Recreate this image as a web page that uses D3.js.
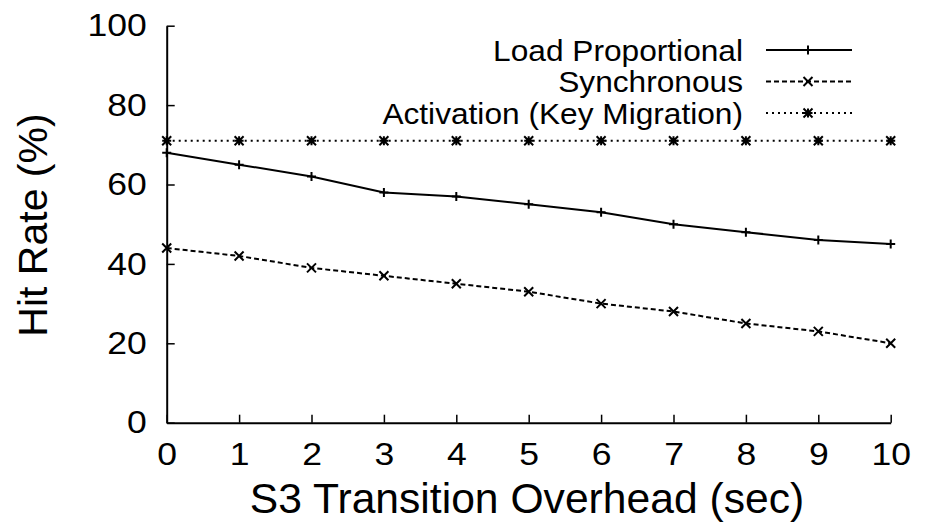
<!DOCTYPE html>
<html lang="en">
<head>
<meta charset="UTF-8">
<title>Hit Rate vs S3 Transition Overhead</title>
<script src="https://d3js.org/d3.v7.min.js"></script>
<style>
  html, body { margin: 0; padding: 0; background: #fff; }
  svg { display: block; font-family: "Liberation Sans", Arial, Helvetica, sans-serif; }
</style>
</head>
<body>
<svg id="chart" width="926" height="529"></svg>
<script>
// data
const overhead = [0, 1, 2, 3, 4, 5, 6, 7, 8, 9, 10];
const loadProportional = [68, 65, 62, 58, 57, 55, 53, 50, 48, 46, 45];
const synchronous = [44, 42, 39, 37, 35, 33, 30, 28, 25, 23, 20];
const activation = [71, 71, 71, 71, 71, 71, 71, 71, 71, 71, 71];
const yTicks = [0, 20, 40, 60, 80, 100];
const xTicks = [0, 1, 2, 3, 4, 5, 6, 7, 8, 9, 10];

const seriesNames = ["Load Proportional", "Synchronous", "Activation (Key Migration)"];
const seriesValues = [loadProportional, synchronous, activation];

const svg = d3.select("#chart");

const x = d3.scaleLinear().domain([0, 10]).range([166.7, 890.7]);
const y = d3.scaleLinear().domain([0, 100]).range([422.7, 25.7]);

// line styles: solid/+, dashed/x, dotted/*
const styles = [
  { dash: null, marker: "plus" },
  { dash: "5,3", marker: "cross" },
  { dash: "2,4", marker: "star" }
];

function drawMarker(g, type, cx, cy) {
  const s = 4.5;
  const p = d3.path();
  if (type === "plus" || type === "star") {
    p.moveTo(cx - s, cy); p.lineTo(cx + s, cy);
    p.moveTo(cx, cy - s); p.lineTo(cx, cy + s);
  }
  if (type === "cross" || type === "star") {
    p.moveTo(cx - s, cy - s); p.lineTo(cx + s, cy + s);
    p.moveTo(cx - s, cy + s); p.lineTo(cx + s, cy - s);
  }
  g.append("path").attr("d", p.toString())
    .attr("stroke", "#000").attr("stroke-width", 2).attr("fill", "none");
}

// the original text is a bit wider than Liberation Sans at the same height
function widen(sel, k) {
  sel.each(function () {
    const w = this.getComputedTextLength();
    d3.select(this).attr("textLength", w * k).attr("lengthAdjust", "spacingAndGlyphs");
  });
}

// axes
const yAxis = svg.append("g")
  .attr("transform", `translate(${x(0)},0)`)
  .call(d3.axisLeft(y).tickValues(yTicks).tickSizeInner(-8).tickSizeOuter(0).tickPadding(20));
const xAxis = svg.append("g")
  .attr("transform", `translate(0,${y(0)})`)
  .call(d3.axisBottom(x).tickValues(xTicks).tickSizeInner(-8).tickSizeOuter(0).tickPadding(20));

[yAxis, xAxis].forEach(a => {
  a.select(".domain").attr("stroke", "#000").attr("stroke-width", 2);
  a.selectAll(".tick line").attr("stroke", "#000").attr("stroke-width", 1.5);
  a.selectAll(".tick text").attr("fill", "#000").style("font-size", "32px")
    .style("font-family", "'Liberation Sans', Arial, Helvetica, sans-serif");
  widen(a.selectAll(".tick text"), 1.11);
});

// axis titles
svg.append("text")
  .attr("x", 527).attr("y", 513)
  .attr("text-anchor", "middle")
  .style("font-size", "42px")
  .text("S3 Transition Overhead (sec)")
  .call(widen, 1.015);

svg.append("text")
  .attr("transform", `translate(47,225) rotate(-90)`)
  .attr("text-anchor", "middle")
  .style("font-size", "41px")
  .text("Hit Rate (%)");

// series
const line = d3.line().x((d, i) => x(overhead[i])).y(d => y(d));
seriesValues.forEach((vals, k) => {
  svg.append("path")
    .datum(vals)
    .attr("d", line)
    .attr("fill", "none")
    .attr("stroke", "#000")
    .attr("stroke-width", 2)
    .attr("stroke-dasharray", styles[k].dash);
  const mg = svg.append("g");
  vals.forEach((v, i) => drawMarker(mg, styles[k].marker, x(overhead[i]), y(v)));
});

// legend
const legendRows = [50, 81.5, 113];
seriesNames.forEach((name, k) => {
  const ly = legendRows[k];
  svg.append("text")
    .attr("x", 743).attr("y", ly + 10.8)
    .attr("text-anchor", "end")
    .style("font-size", "30px")
    .text(name)
    .call(widen, 1.055);
  svg.append("line")
    .attr("x1", 766).attr("x2", 852)
    .attr("y1", ly).attr("y2", ly)
    .attr("stroke", "#000").attr("stroke-width", 2)
    .attr("stroke-dasharray", styles[k].dash);
  drawMarker(svg.append("g"), styles[k].marker, 808, ly);
});
</script>
</body>
</html>
